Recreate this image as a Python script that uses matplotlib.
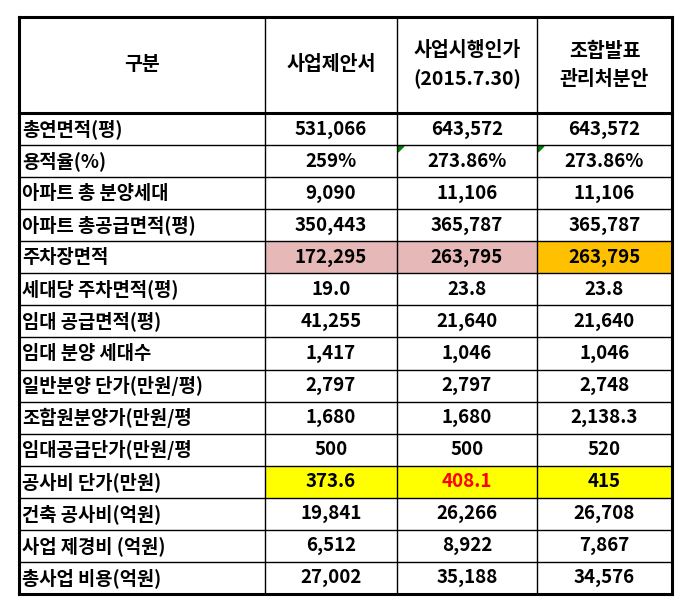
import matplotlib
matplotlib.use("Agg")
import matplotlib.pyplot as plt
from matplotlib.patches import Rectangle, Polygon

header = ["구분", "사업제안서", "사업시행인가\n(2015.7.30)", "조합발표\n관리처분안"]
row_labels = ["총연면적(평)", "용적율(%)", "아파트 총 분양세대", "아파트 총공급면적(평)", "주차장면적",
              "세대당 주차면적(평)", "임대 공급면적(평)", "임대 분양 세대수", "일반분양 단가(만원/평)",
              "조합원분양가(만원/평", "임대공급단가(만원/평", "공사비 단가(만원)", "건축 공사비(억원)",
              "사업 제경비 (억원)", "총사업 비용(억원)"]
col1 = ["531,066", "259%", "9,090", "350,443", "172,295", "19.0", "41,255", "1,417", "2,797",
        "1,680", "500", "373.6", "19,841", "6,512", "27,002"]
col2 = ["643,572", "273.86%", "11,106", "365,787", "263,795", "23.8", "21,640", "1,046", "2,797",
        "1,680", "500", "408.1", "26,266", "8,922", "35,188"]
col3 = ["643,572", "273.86%", "11,106", "365,787", "263,795", "23.8", "21,640", "1,046", "2,748",
        "2,138.3", "520", "415", "26,708", "7,867", "34,576"]

W, H = 693, 608
fig = plt.figure(figsize=(W/100, H/100), dpi=100)
ax = fig.add_axes([0, 0, 1, 1])
ax.set_xlim(0, W); ax.set_ylim(H, 0); ax.axis("off")
plt.rcParams["font.family"] = "Noto Sans CJK KR"

xs = [19, 265, 397, 537, 672]
top, hb = 17, 113
rh = (594 - hb) / len(row_labels)
ys = [top, hb] + [hb + rh*(i+1) for i in range(len(row_labels))]

fills = {(4, 1): "#e6b8b7", (4, 2): "#e6b8b7", (4, 3): "#ffc000",
         (11, 1): "#ffff00", (11, 2): "#ffff00", (11, 3): "#ffff00"}
for (r, c), col in fills.items():
    ax.add_patch(Rectangle((xs[c], ys[r+1]), xs[c+1]-xs[c], rh, facecolor=col, edgecolor="none"))

fs = 13.5
for c, h in enumerate(header):
    ax.text((xs[c]+xs[c+1])/2, (top+hb)/2, h, ha="center", va="center", fontsize=14,
            fontweight="bold", linespacing=1.6)
cols = [col1, col2, col3]
for r, lab in enumerate(row_labels):
    yc = ys[r+1] + rh/2
    ax.text(xs[0]+3, yc, lab, ha="left", va="center", fontsize=fs, fontweight="bold")
    for c in range(3):
        color = "#ff0000" if (r == 11 and c == 1) else "black"
        ax.text((xs[c+1]+xs[c+2])/2, yc, cols[c][r], ha="center", va="center", fontsize=fs,
                fontweight="bold", color=color)

for c in (2, 3):
    x0, y0 = xs[c]+1, ys[2]+1
    ax.add_patch(Polygon([(x0, y0), (x0+6, y0), (x0, y0+6)], color="#008000"))

for y in ys:
    lw = 2.2 if y in (top, hb, ys[-1]) else 1.0
    ax.plot([xs[0], xs[-1]], [y, y], color="black", lw=lw, solid_capstyle="projecting")
for i, x in enumerate(xs):
    lw = 2.2 if i in (0, len(xs)-1) else 1.0
    ax.plot([x, x], [top, ys[-1]], color="black", lw=lw, solid_capstyle="projecting")

fig.savefig("out.png", dpi=100)
